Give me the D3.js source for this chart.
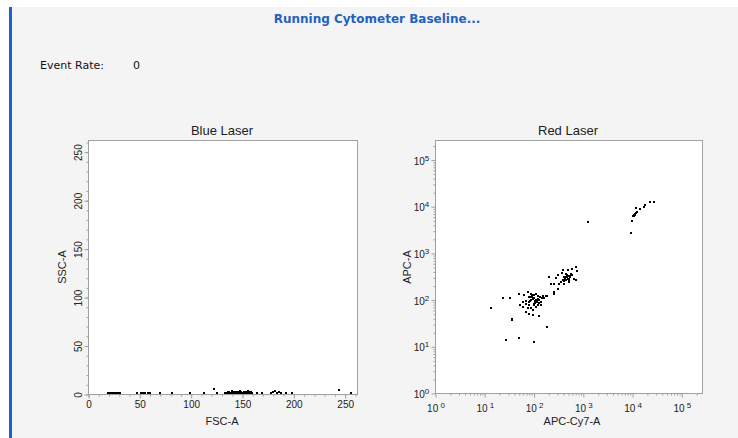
<!DOCTYPE html>
<html><head><meta charset="utf-8">
<script src="https://cdn.jsdelivr.net/npm/d3@7"></script>
<style>
html,body{margin:0;padding:0;background:#fff;}
svg{display:block;}
</style></head>
<body>
<script>
// ---------- DATA ----------
const headerTitle = "Running Cytometer Baseline...";
const eventRateLabel = "Event Rate:";
const eventRateValue = "0";

const blueTitle = "Blue Laser";
const blueXLabel = "FSC-A";
const blueYLabel = "SSC-A";
const blueTicks = [0, 50, 100, 150, 200, 250];
const blueMinorTicks = d3.range(0, 261, 10);
// FSC-A / SSC-A events (x1000)
const fscA = [19,20,21,22,23,24,25,26,27,28,29,30,31, 48,52,54,56,58,60, 70,82,99,113,123,126,
  133,134,135,136,137,138,139,140,141,142,143,144,145,146,147,148,149,150,151,152,153,154,155,156,157,158,159,160,
  136,140,144,148,152,156,159,165,169,178,180,182,184,186,188,193,199,244,256];
const sscA = [1,1,1,1,1,1,1,1,1,1,1,1,1, 1.5,1.5,1,1,1,1.5, 1,1,1.5,1,5,1,
  1,1,1.5,1,2,1,1.5,2,1,2,1,1.5,2,1,2.5,1,2,1.5,1,2,1,2,1.5,1,2,1,1.5,1,
  2.5,3,2.5,3,2.5,3,2.5,1,1,1,2,3,1.5,2.5,1,1,1,4.5,1];

const redTitle = "Red Laser";
const redXLabel = "APC-Cy7-A";
const redYLabel = "APC-A";
const redDecades = [0, 1, 2, 3, 4, 5];
// APC-Cy7-A / APC-A events
const apcCy7A = [
  23500,27400,18630,17250,14770,12270,12270,11350,10840,11720,10350,12000,11000,11500,12500,10000,9720,1280,
  721,599,490,388,377,572,755,308,209,285,420,530,667,453,359,264,333,420,226,721,308,264,256,599,468,513,480,440,500,550,400,460,520,
  430,470,490,540,410,450,
  50.3,65.5,76.4,89.2,104,122,153,179,82.5,96.4,112,131,142,60.6,70.7,82.5,104,122,142,51.9,60.6,76.4,89.2,112,96.4,70.7,82.5,96.4,131,
  100,105,90,115,85,95,110,125,135,80,100,120,150,90,70,160,175,185,
  98,108,118,92,128,
  13.9,23.9,32.6,36.3,36.3,27.9,50.3,104,185,127];
const apcA = [
  12560,12560,10840,9840,8630,9220,7330,6760,6230,6440,6030,7000,6500,6900,7500,4870,2620,4490,
  512,442,421,421,375,357,407,340,304,294,304,280,280,258,238,219,219,219,219,258,166,146,134,340,330,238,300,280,320,300,260,350,265,
  290,310,270,325,245,300,
  134,124,146,134,124,120,118,118,114,108,100,97,89,89,82,78,82,78,76,76,70,66.5,66.5,70,59.3,54.7,50.4,48,44.2,
  110,95,100,90,95,120,130,105,115,88,75,95,110,115,95,110,120,120,
  104,86,92,128,84,
  66.5,108,108,39.4,35.8,13.4,15.3,12.6,25.4,44.2];

// ---------- DRAW ----------
const W = 738, H = 438;
const svg = d3.select("body").append("svg").attr("width", W).attr("height", H);

// background
svg.append("rect").attr("x", 0).attr("y", 0).attr("width", W).attr("height", H).attr("fill", "#ffffff");
svg.append("rect").attr("x", 9).attr("y", 7).attr("width", W - 9).attr("height", H - 7).attr("fill", "#f4f4f4");
svg.append("rect").attr("x", 9).attr("y", 7).attr("width", 3).attr("height", H - 7).attr("fill", "#1e5fd8");

svg.append("text").attr("x", 377).attr("y", 23).attr("text-anchor", "middle")
  .attr("font-family", "DejaVu Sans, Verdana, sans-serif").attr("font-weight", "bold")
  .attr("font-size", 12).attr("fill", "#2462bd").text(headerTitle);

svg.append("text").attr("x", 40).attr("y", 69)
  .attr("font-family", "DejaVu Sans, Verdana, sans-serif").attr("font-size", 11)
  .attr("fill", "#111").text(eventRateLabel);
svg.append("text").attr("x", 133).attr("y", 69)
  .attr("font-family", "DejaVu Sans, Verdana, sans-serif").attr("font-size", 11)
  .attr("fill", "#111").text(eventRateValue);

const FONT = "Liberation Sans, Arial, sans-serif";
const axisColor = "#a0a0a0";

function frame(x0, y0, x1, y1) {
  svg.append("rect").attr("x", x0 + 0.5).attr("y", y0 + 0.5)
    .attr("width", x1 - x0).attr("height", y1 - y0)
    .attr("fill", "#ffffff").attr("stroke", axisColor).attr("stroke-width", 1);
}
function styleAxis(g) {
  g.select(".domain").remove();
  g.selectAll(".tick line").attr("stroke", axisColor);
  g.selectAll(".tick text").attr("fill", "#222").attr("font-family", FONT).attr("font-size", 10);
}

// ----- Blue laser -----
const bx = d3.scaleLinear().domain([0, 262]).range([88, 357]);
const by = d3.scaleLinear().domain([0, 262]).range([394, 140]);
frame(88, 140, 357, 394);

const bxMinor = svg.append("g").attr("transform", "translate(0.5,394.5)")
  .call(d3.axisBottom(bx).tickValues(blueMinorTicks).tickSize(2).tickFormat(""));
styleAxis(bxMinor);
const bxMajor = svg.append("g").attr("transform", "translate(0.5,394.5)")
  .call(d3.axisBottom(bx).tickValues(blueTicks).tickSize(4).tickPadding(2).tickFormat(d3.format("d")));
styleAxis(bxMajor);

const byMinor = svg.append("g").attr("transform", "translate(88.5,0.5)")
  .call(d3.axisLeft(by).tickValues(blueMinorTicks).tickSize(2).tickFormat(""));
styleAxis(byMinor);
const byMajor = svg.append("g").attr("transform", "translate(88.5,0.5)")
  .call(d3.axisLeft(by).tickValues(blueTicks).tickSize(4).tickFormat(d3.format("d")));
styleAxis(byMajor);
byMajor.selectAll(".tick text")
  .attr("text-anchor", "middle").attr("dy", null).attr("x", null)
  .attr("transform", "translate(-10,0) rotate(-90)").attr("dy", "0.32em");

svg.append("g").selectAll("rect").data(fscA).join("rect")
  .attr("x", (d) => Math.round(bx(d)) - 1)
  .attr("y", (d, i) => Math.round(by(sscA[i])) - 1)
  .attr("width", 2).attr("height", 2).attr("fill", "#000");

svg.append("text").attr("x", 222).attr("y", 135).attr("text-anchor", "middle")
  .attr("font-family", FONT).attr("font-size", 13).attr("fill", "#222").text(blueTitle);
svg.append("text").attr("x", 222).attr("y", 425).attr("text-anchor", "middle")
  .attr("font-family", FONT).attr("font-size", 11).attr("fill", "#222").text(blueXLabel);
svg.append("text").attr("transform", "translate(66,267) rotate(-90)").attr("text-anchor", "middle")
  .attr("font-family", FONT).attr("font-size", 11).attr("fill", "#222").text(blueYLabel);

// ----- Red laser -----
const rx = d3.scaleLog().domain([1, 262144]).range([435, 702]);
const ry = d3.scaleLog().domain([1, 262144]).range([393, 140]);
frame(435, 140, 702, 393);

const majorVals = redDecades.map((e) => Math.pow(10, e));
const minorVals = [];
redDecades.forEach((e) => { for (let m = 2; m <= 9; m++) { const v = m * Math.pow(10, e); if (v <= 262144) minorVals.push(v); } });

const rxMinor = svg.append("g").attr("transform", "translate(0.5,393.5)")
  .call(d3.axisBottom(rx).tickValues(minorVals).tickSize(2).tickFormat(""));
styleAxis(rxMinor);
const rxMajor = svg.append("g").attr("transform", "translate(0.5,393.5)")
  .call(d3.axisBottom(rx).tickValues(majorVals).tickSize(4).tickFormat(""));
styleAxis(rxMajor);
rxMajor.selectAll(".tick").each(function (d) {
  const t = d3.select(this).append("text").attr("y", 18).attr("text-anchor", "middle")
    .attr("font-family", FONT).attr("font-size", 10).attr("fill", "#222");
  t.append("tspan").text("10");
  t.append("tspan").attr("dy", -4).attr("font-size", 8).text(" " + Math.round(Math.log10(d)));
});

const ryMinor = svg.append("g").attr("transform", "translate(435.5,0.5)")
  .call(d3.axisLeft(ry).tickValues(minorVals).tickSize(2).tickFormat(""));
styleAxis(ryMinor);
const ryMajor = svg.append("g").attr("transform", "translate(435.5,0.5)")
  .call(d3.axisLeft(ry).tickValues(majorVals).tickSize(4).tickFormat(""));
styleAxis(ryMajor);
ryMajor.selectAll(".tick").each(function (d) {
  const t = d3.select(this).append("text").attr("x", -14).attr("y", 4).attr("text-anchor", "middle")
    .attr("font-family", FONT).attr("font-size", 10).attr("fill", "#222");
  t.append("tspan").text("10");
  t.append("tspan").attr("dy", -4).attr("font-size", 8).text(Math.round(Math.log10(d)));
});

svg.append("g").selectAll("rect").data(apcCy7A).join("rect")
  .attr("x", (d) => Math.round(rx(d)) - 1)
  .attr("y", (d, i) => Math.round(ry(apcA[i])) - 1)
  .attr("width", 2).attr("height", 2).attr("fill", "#000");

svg.append("text").attr("x", 568).attr("y", 135).attr("text-anchor", "middle")
  .attr("font-family", FONT).attr("font-size", 13).attr("fill", "#222").text(redTitle);
svg.append("text").attr("x", 572).attr("y", 425).attr("text-anchor", "middle")
  .attr("font-family", FONT).attr("font-size", 11).attr("fill", "#222").text(redXLabel);
svg.append("text").attr("transform", "translate(411,267) rotate(-90)").attr("text-anchor", "middle")
  .attr("font-family", FONT).attr("font-size", 11).attr("fill", "#222").text(redYLabel);
</script>
</body></html>
